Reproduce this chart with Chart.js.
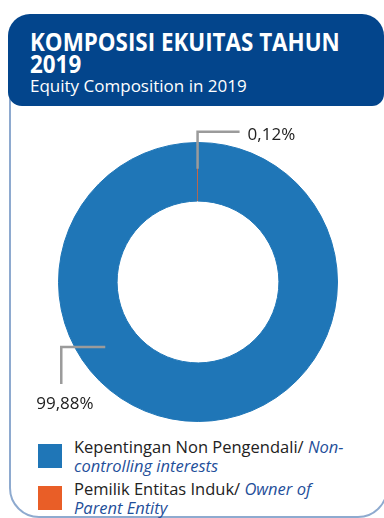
<!DOCTYPE html>
<html>
<head>
<meta charset="utf-8">
<script src="https://cdn.jsdelivr.net/npm/chart.js@4/dist/chart.umd.min.js"></script>
<style>
  html, body { margin: 0; padding: 0; background: #fff; }
  body { width: 384px; height: 518px; position: relative; overflow: hidden; font-family: 'Open Sans', 'Noto Sans', sans-serif; }
  .frame {
    position: absolute; left: 9px; top: 40px; width: 379px; height: 478px;
    box-sizing: border-box; border: 2px solid #8eaacf; border-radius: 30px;
  }
  .head {
    position: absolute; left: 8px; top: 14px; width: 376px; height: 92px;
    background: #03458c; border-radius: 22px 22px 12px 14px;
  }
  .title {
    position: absolute; left: 30px; top: 30px; color: #fff; font-weight: 700;
    font-size: 25px; line-height: 22px; white-space: nowrap;
    transform: scaleX(0.895); transform-origin: left top;
  }
  .sub {
    position: absolute; left: 30px; top: 77px; color: #fff; font-size: 17px; line-height: 17px; white-space: nowrap;
  }
  #chartBox { position: absolute; left: 0; top: 112px; width: 384px; height: 320px; }
  .legend { position: absolute; left: 38px; top: 437px; }
  .item { position: relative; padding-left: 36px; font-size: 16.5px; line-height: 19px; color: #222; margin-bottom: 4px; width: 280px; }
  .item i { color: #1f4f9a; }
  .sw { position: absolute; left: 0; top: 7px; width: 24px; height: 24px; }
</style>
</head>
<body>
<div class="frame"></div>
<div class="head"></div>
<div class="title">KOMPOSISI EKUITAS TAHUN<br>2019</div>
<div class="sub">Equity Composition in 2019</div>
<div id="chartBox"><canvas id="equityChart"></canvas></div>
<div class="legend" id="legendContainer"></div>

<script>
const categories = ['Kepentingan Non Pengendali', 'Pemilik Entitas Induk'];
const categoriesEn = ['Non-controlling interests', 'Owner of Parent Entity'];
const values = [99.88, 0.12];
const colors = ['#1f76b7', '#e95e27'];

const formatPct = (v) => v.toFixed(2).replace('.', ',') + '%';

// leader lines: anchor angle (deg, clockwise from top; null = slice middle) and path offsets
const leaders = [
    { angle: 235, path: [[-44, 0], [0, 37]], text: { dx: -25, dy: 20, align: 'left' } },
    { angle: null, path: [[0, -37], [42, 0]], text: { dx: 8, dy: 3, align: 'left' } }
];

const leaderPlugin = {
    id: 'leaders',
    afterDatasetsDraw(chart) {
        const ctx = chart.ctx;
        const arcs = chart.getDatasetMeta(0).data;
        ctx.save();
        arcs.forEach((arc, i) => {
            const cfg = leaders[i];
            const mid = cfg.angle === null
                ? (arc.startAngle + arc.endAngle) / 2
                : cfg.angle * Math.PI / 180 - Math.PI / 2;
            const r = (arc.innerRadius + arc.outerRadius) / 2 + 3;
            let x = arc.x + Math.cos(mid) * r;
            let y = arc.y + Math.sin(mid) * r;
            ctx.beginPath();
            ctx.moveTo(x, y);
            cfg.path.forEach(([dx, dy]) => { x += dx; y += dy; ctx.lineTo(x, y); });
            ctx.strokeStyle = '#9b9b9b';
            ctx.lineWidth = 2.5;
            ctx.lineJoin = 'miter';
            ctx.stroke();
            ctx.fillStyle = '#222';
            ctx.font = '17px "Open Sans", "Noto Sans", sans-serif';
            ctx.textAlign = cfg.text.align;
            ctx.textBaseline = 'middle';
            ctx.fillText(formatPct(values[i]), x + cfg.text.dx, y + cfg.text.dy);
        });
        ctx.restore();
    }
};

window.onload = () => {
    const ctx = document.getElementById('equityChart').getContext('2d');

    new Chart(ctx, {
        type: 'doughnut',
        data: {
            labels: categories,
            datasets: [{
                data: values,
                backgroundColor: colors,
                borderColor: colors,
                borderWidth: [1, 0],
                hoverOffset: 0
            }]
        },
        options: {
            responsive: true,
            maintainAspectRatio: false,
            animation: false,
            cutout: '58%',
            layout: { padding: { left: 58, right: 46, top: 30, bottom: 10 } },
            plugins: { legend: { display: false }, tooltip: { enabled: false } }
        },
        plugins: [leaderPlugin]
    });

    const legend = document.getElementById('legendContainer');
    categories.forEach((label, i) => {
        legend.innerHTML += `
            <div class="item">
                <span class="sw" style="background:${colors[i]}"></span>
                ${label}/ <i>${categoriesEn[i]}</i>
            </div>`;
    });
};
</script>
</body>
</html>
